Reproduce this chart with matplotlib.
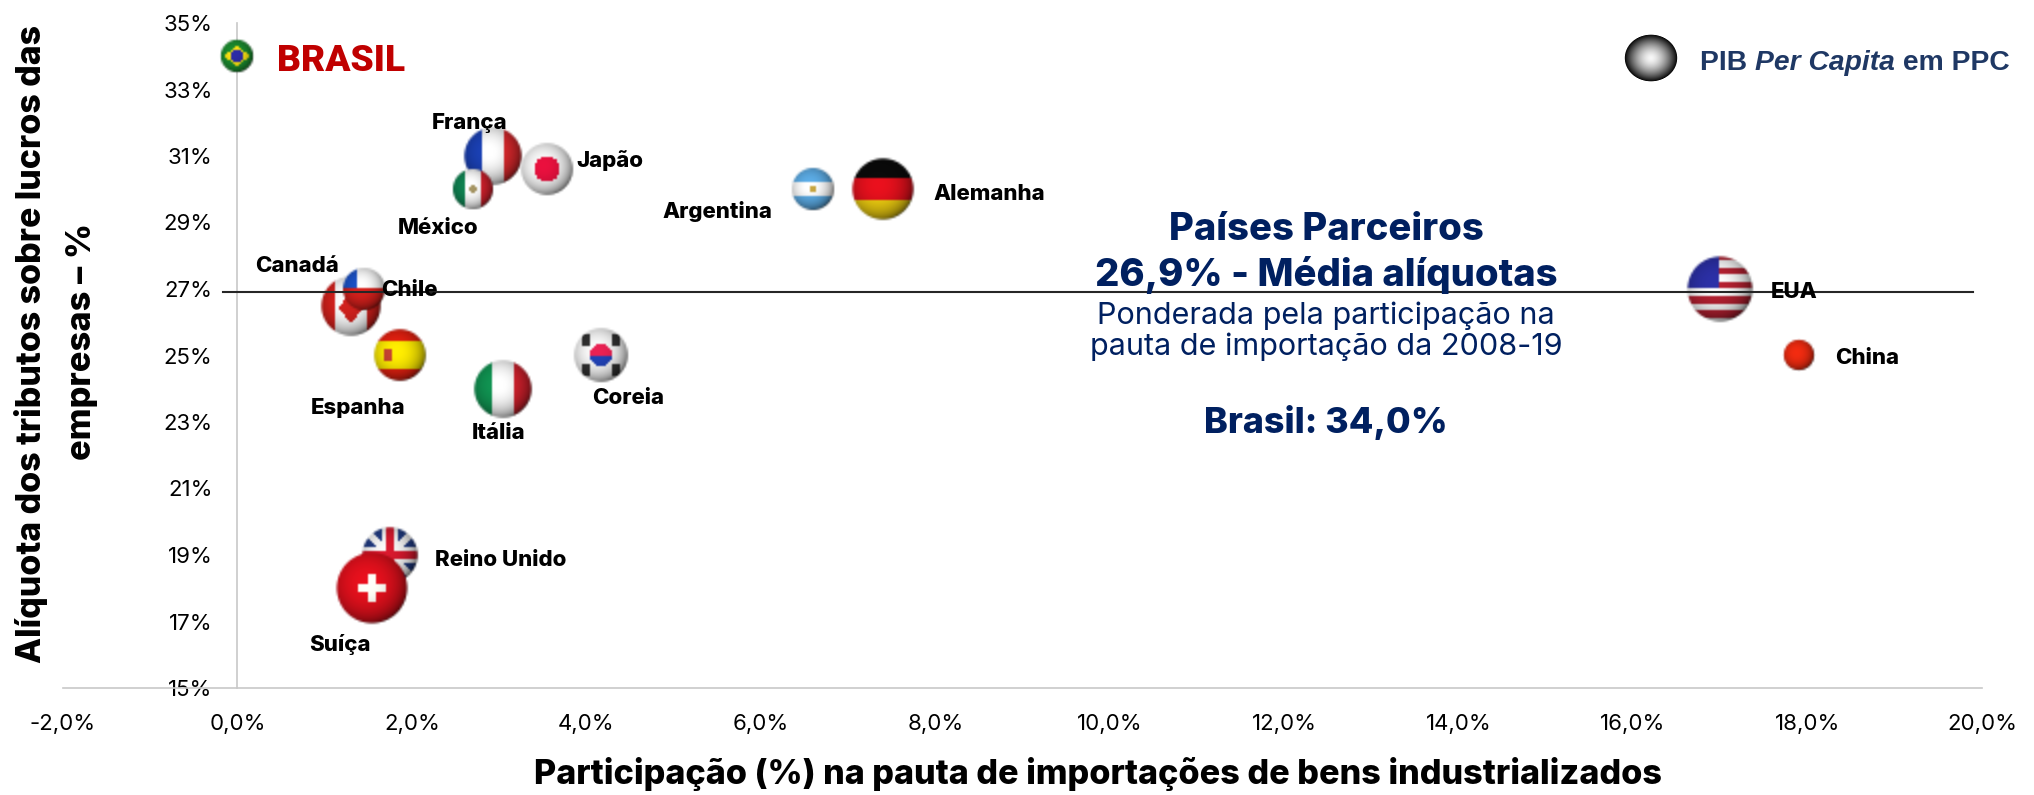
# plot.py
import numpy as np
import matplotlib
matplotlib.use("Agg")
import matplotlib.pyplot as plt
from matplotlib.offsetbox import OffsetImage, AnnotationBbox

# chart data
countries = ["Brasil", "Canadá", "Chile", "França", "México", "Japão", "Argentina", "Alemanha",
             "Espanha", "Itália", "Coreia", "Reino Unido", "Suíça", "EUA", "China"]
share = [0.0, 1.3, 1.45, 2.93, 2.7, 3.55, 6.6, 7.4, 1.86, 3.05, 4.17, 1.75, 1.54, 17.0, 17.9]
tax_rate = [34.0, 26.5, 27.0, 31.0, 30.0, 30.6, 30.0, 30.0, 25.0, 24.0, 25.0, 19.0, 18.0, 27.0, 25.0]
bubble_px = [36, 64, 46, 62, 44, 56, 46, 66, 56, 62, 58, 60, 76, 70, 34]
average_rate = 26.9

x_ticks = [-2, 0, 2, 4, 6, 8, 10, 12, 14, 16, 18, 20]
x_tick_labels = ["-2,0%", "0,0%", "2,0%", "4,0%", "6,0%", "8,0%", "10,0%", "12,0%", "14,0%", "16,0%", "18,0%", "20,0%"]
y_ticks = [15, 17, 19, 21, 23, 25, 27, 29, 31, 33, 35]
y_tick_labels = ["15%", "17%", "19%", "21%", "23%", "25%", "27%", "29%", "31%", "33%", "35%"]

# label offset from the bubble centre, in pixels
label_offsets = {
    "Chile": (45, -1), "Canadá": (-54, 40), "França": (-23, 33), "Japão": (63, 9), "México": (-35, -39),
    "Argentina": (-96, -22), "Alemanha": (106, -5), "Espanha": (-42, -52), "Itália": (-5, -44),
    "Coreia": (27, -43), "Reino Unido": (111, -5), "Suíça": (-32, -56), "EUA": (74, -3), "China": (68, -3),
}

W, H = 2034, 795
LEFT, RIGHT, TOP, BOTTOM = 63, 1982, 23, 688
LABEL_FONT = "Inter"
NAVY = "#002060"


def rgb(hex_color):
    return np.array(matplotlib.colors.to_rgb(hex_color))


def paint(shape, mask, color):
    shape[mask] = rgb(color)


def flag_stripes_h(u, v, colors):
    img = np.zeros(u.shape + (3,))
    n = len(colors)
    for i, c in enumerate(colors):
        paint(img, (v <= 1.1 - 2.2 * i / n) & (v > 1.1 - 2.2 * (i + 1) / n), c)
    return img


def flag_stripes_v(u, v, colors):
    img = np.zeros(u.shape + (3,))
    n = len(colors)
    for i, c in enumerate(colors):
        paint(img, (u >= -1.1 + 2.2 * i / n) & (u < -1.1 + 2.2 * (i + 1) / n), c)
    return img


def flag_image(name, d):
    """ Draws a shaded ball with the flag of the country, d pixels wide. """
    s = np.linspace(-1.05, 1.05, d)
    u, v = np.meshgrid(s, -s)
    r = np.sqrt(u ** 2 + v ** 2)

    if name == "Brasil":
        img = flag_stripes_h(u, v, ["#1a8a2e"])
        paint(img, np.abs(u) / 0.85 + np.abs(v) / 0.6 < 1, "#f2dc12")
        paint(img, r < 0.4, "#2a2aa0")
    elif name == "Chile":
        img = flag_stripes_h(u, v, ["#f4f4f4", "#d0201c"])
        paint(img, (u < -0.35) & (v > 0), "#1a4fc0")
    elif name == "Canadá":
        img = flag_stripes_v(u, v, ["#d0201c", "#f4f4f4", "#f4f4f4", "#d0201c"])
        paint(img, np.abs(u) / 0.42 + np.abs(v + 0.05) / 0.55 < 1, "#c8201c")
    elif name == "França":
        img = flag_stripes_v(u, v, ["#1a3fb0", "#f6f6f6", "#d8282c"])
    elif name == "Japão":
        img = flag_stripes_h(u, v, ["#f2f2f2"])
        paint(img, r < 0.5, "#e0103c")
    elif name == "México":
        img = flag_stripes_v(u, v, ["#0f8050", "#f6f6f6", "#d0202c"])
        paint(img, r < 0.2, "#a09060")
    elif name == "Argentina":
        img = flag_stripes_h(u, v, ["#5aa8e0", "#f6f6f6", "#5aa8e0"])
        paint(img, r < 0.15, "#c0a040")
    elif name == "Alemanha":
        img = flag_stripes_h(u, v, ["#0a0a0a", "#e0101c", "#e8c810"])
    elif name == "Espanha":
        img = flag_stripes_h(u, v, ["#e02010", "#f6e400", "#f6e400", "#e02010"])
        paint(img, (np.abs(u + 0.45) < 0.15) & (np.abs(v) < 0.25), "#c04030")
    elif name == "Itália":
        img = flag_stripes_v(u, v, ["#109050", "#f6f6f6", "#d0202c"])
    elif name == "Coreia":
        img = flag_stripes_h(u, v, ["#f2f2f2"])
        paint(img, r < 0.42, "#e02050")
        paint(img, (r < 0.42) & (v < -0.02), "#2040b0")
        for sx in (-1, 1):
            for sy in (-1, 1):
                paint(img, (np.abs(u - sx * 0.55) < 0.16) & (np.abs(v - sy * 0.55) < 0.2), "#303030")
    elif name == "Reino Unido":
        img = flag_stripes_h(u, v, ["#203a80"])
        paint(img, (np.abs(u - v) < 0.2) | (np.abs(u + v) < 0.2), "#f0f0f0")
        paint(img, (np.abs(u) < 0.28) | (np.abs(v) < 0.28), "#f0f0f0")
        paint(img, (np.abs(u) < 0.16) | (np.abs(v) < 0.16), "#d0182c")
    elif name == "Suíça":
        img = flag_stripes_h(u, v, ["#e0101c"])
        paint(img, ((np.abs(u) < 0.42) & (np.abs(v) < 0.14)) | ((np.abs(u) < 0.14) & (np.abs(v) < 0.42)), "#f8f8f0")
    elif name == "EUA":
        img = flag_stripes_h(u, v, ["#b02030", "#f4f4f4"] * 5)
        paint(img, (u < -0.02) & (v > 0.02), "#2a2ea0")
    elif name == "China":
        img = flag_stripes_h(u, v, ["#e82a10"])
    else:
        img = flag_stripes_h(u, v, ["#f4f4f4"])

    # ball shading, dark on the rim, light a bit to the upper left
    r2 = np.sqrt((u + 0.15) ** 2 + (v - 0.15) ** 2)
    shade = np.sqrt(np.clip(1 - (r2 / 1.2) ** 2, 0, 1))
    img = np.clip(img * (0.25 + 0.8 * shade[..., None]), 0, 1)
    alpha = np.clip((1.0 - r) * d / 2 + 0.5, 0, 1)
    return np.dstack([img, alpha])


def legend_ball(w, h):
    """ Gray ball with a black rim, used as the size legend. """
    u, v = np.meshgrid(np.linspace(-1.05, 1.05, w), np.linspace(-1.05, 1.05, h))
    r = np.sqrt(u ** 2 + v ** 2)
    g = np.clip(0.97 - 0.95 * r ** 1.6, 0, 1)
    alpha = np.clip((1.0 - r) * w / 2 + 0.5, 0, 1)
    return np.dstack([g, g, g, alpha])


def px_text(fig, x, y, s, **kw):
    """ Text placed in reference pixels, y going down. """
    return fig.text(x / W, 1 - y / H, s, **kw)


fig = plt.figure(figsize=(W / 100, H / 100), dpi=100)
ax = fig.add_axes([LEFT / W, 1 - BOTTOM / H, (RIGHT - LEFT) / W, (BOTTOM - TOP) / H])
ax.set_xlim(-2, 20)
ax.set_ylim(15, 35)

for side in ("top", "right"):
    ax.spines[side].set_visible(False)
ax.spines["left"].set_position(("data", 0))
for side in ("left", "bottom"):
    ax.spines[side].set_color("#c8c8c8")
    ax.spines[side].set_linewidth(1.2)

ax.set_xticks(x_ticks, x_tick_labels)
ax.set_yticks(y_ticks, y_tick_labels)
ax.tick_params(axis="both", length=0, labelsize=16, labelcolor="black")
ax.tick_params(axis="x", pad=19)
ax.tick_params(axis="y", pad=18)
for t in ax.get_xticklabels() + ax.get_yticklabels():
    t.set_fontfamily(LABEL_FONT)
    t.set_fontweight("normal")

for name, x, y, d in zip(countries, share, tax_rate, bubble_px):
    # painted at half size and blown up, the balls in the chart are soft
    box = OffsetImage(flag_image(name, d // 2), zoom=2, dpi_cor=False, interpolation="bilinear")
    ab = AnnotationBbox(box, (x, y), xycoords="data", frameon=False, pad=0, zorder=3)
    ax.add_artist(ab)
    if name in label_offsets:
        ax.annotate(name, (x, y), xytext=label_offsets[name], textcoords="offset pixels",
                    ha="center", va="center", fontsize=16, fontweight=800,
                    fontfamily=LABEL_FONT, color="black", zorder=6, annotation_clip=False)

# average line crosses over the balls
ax.plot([-0.17, 19.9], [average_rate, average_rate], color="#262626", lw=1.5, zorder=5)

px_text(fig, 277, 61, "BRASIL", fontsize=26.7, fontweight="black", family="Roboto", color="#c00000",
        ha="left", va="center")

# size legend
fig.figimage(legend_ball(56, 50), xo=1623, yo=H - 83, zorder=4)
rend = fig.canvas.get_renderer()
pos = 1700
for part, style in (("PIB ", "normal"), ("Per Capita", "italic"), (" em PPC", "normal")):
    t = px_text(fig, pos, 60, part, fontsize=20.3, fontweight="bold", style=style, family="Liberation Sans",
                color="#1f3864", ha="left", va="center_baseline")
    pos += t.get_window_extent(rend).width

# note in the middle
px_text(fig, 1326, 230, "Países Parceiros", fontsize=27.5, fontweight=800, family=LABEL_FONT, color=NAVY,
        ha="center", va="center")
px_text(fig, 1326, 275, "26,9% - Média alíquotas", fontsize=27.5, fontweight=800, family=LABEL_FONT, color=NAVY,
        ha="center", va="center")
px_text(fig, 1326, 316, "Ponderada pela participação na", fontsize=22, family=LABEL_FONT, color=NAVY,
        ha="center", va="center")
px_text(fig, 1326, 347, "pauta de importação da 2008-19", fontsize=22, family=LABEL_FONT, color=NAVY,
        ha="center", va="center")
px_text(fig, 1326, 422, "Brasil: 34,0%", fontsize=25.8, fontweight=800, family=LABEL_FONT, color=NAVY,
        ha="center", va="center")

# axis titles
px_text(fig, 1098, 774, "Participação (%) na pauta de importações de bens industrializados", fontsize=24.6,
        fontweight=800, family=LABEL_FONT, color="black", ha="center", va="center")
px_text(fig, 31, 344, "Alíquota dos tributos sobre lucros das", fontsize=24.4, fontweight=800,
        family=LABEL_FONT, color="black", rotation=90, ha="center", va="center")
px_text(fig, 82, 341, "empresas – %", fontsize=24.8, fontweight=800, family=LABEL_FONT, color="black",
        rotation=90, ha="center", va="center")

fig.savefig("out.png", dpi=100)
